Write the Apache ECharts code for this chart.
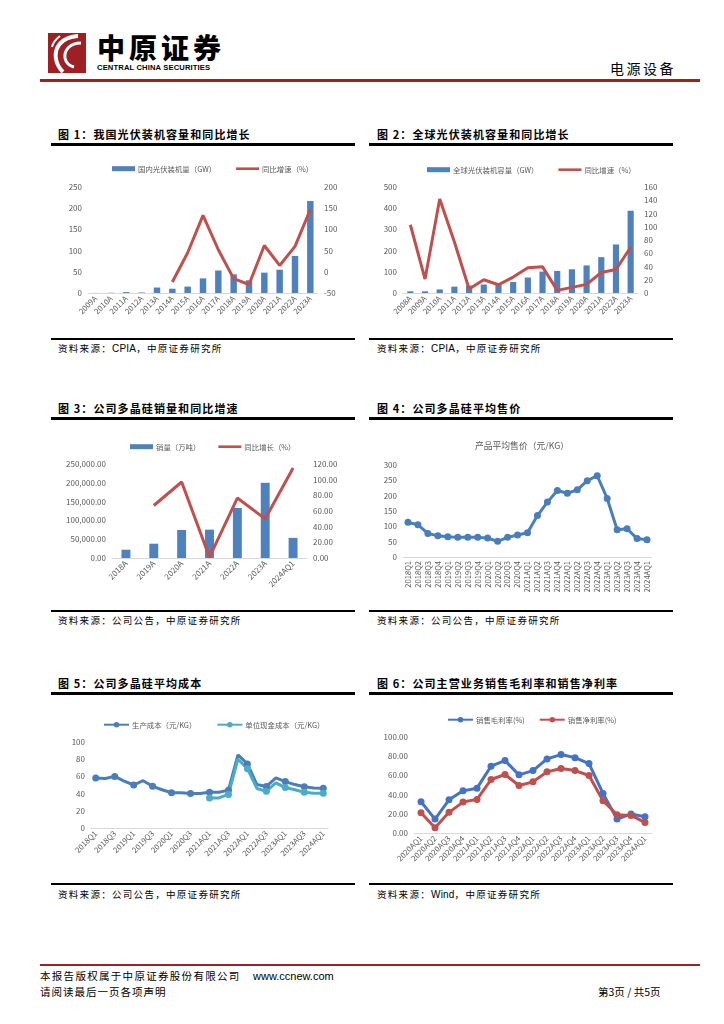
<!DOCTYPE html>
<html><head><meta charset="utf-8">
<script src="https://cdn.jsdelivr.net/npm/echarts@6/dist/echarts.min.js"></script>
<style>
body{margin:0;width:724px;height:1024px;background:#fff;position:relative;overflow:hidden;font-family:'Noto Sans CJK SC',sans-serif;color:#000}
.abs{position:absolute;white-space:nowrap}
.title{position:absolute;font-size:11px;font-weight:bold;letter-spacing:1.1px;line-height:14px;white-space:nowrap}
.tline{position:absolute;height:2.5px;background:#000;width:304px}
.sline{position:absolute;height:1.5px;background:#000;width:304px}
.src{position:absolute;font-size:9.5px;letter-spacing:1.3px;line-height:12px;white-space:nowrap}
.src span{letter-spacing:0.2px;font-family:'Liberation Sans',sans-serif;font-size:10px}
.chart{position:absolute;width:306px;height:190px}
</style></head>
<body>
<!-- header -->
<svg class="abs" style="left:48px;top:33px" width="38" height="40" viewBox="0 0 38 40">
<rect x="0" y="0" width="38" height="40" fill="#9E1F24"/>
<path d="M30 3 C14 4 6 14 8 26 C9 32 12 36 15 39" stroke="#fff" stroke-width="4" fill="none"/>
<path d="M33 10 C22 10 16 17 17 25 C18 30 22 33 26 34" stroke="#fff" stroke-width="3" fill="none"/>
<path d="M12 3 C8 6 5 10 4 14" stroke="#fff" stroke-width="2" fill="none"/>
</svg>
<div class="abs" style="left:97px;top:30px;font-size:28px;font-weight:900;letter-spacing:4px;line-height:34px">中原证券</div>
<div class="abs" style="left:97px;top:63px;font-size:7.6px;font-weight:bold;font-family:'Liberation Sans',sans-serif;letter-spacing:0.15px;line-height:10px">CENTRAL CHINA SECURITIES</div>
<div class="abs" style="left:610px;top:59px;font-size:14px;letter-spacing:2.5px;line-height:18px">电源设备</div>
<div class="abs" style="left:40px;top:79px;width:660px;height:3px;background:#9E1F24"></div>

<!-- titles -->
<div class="title" style="left:58px;top:127px">图 1：我国光伏装机容量和同比增长</div>
<div class="tline" style="left:51px;top:143px"></div>
<div class="title" style="left:377px;top:127px">图 2：全球光伏装机容量和同比增长</div>
<div class="tline" style="left:369px;top:143px"></div>
<div class="sline" style="left:51px;top:338px"></div>
<div class="sline" style="left:369px;top:338px"></div>
<div class="src" style="left:58px;top:342px">资料来源：<span>CPIA</span>，中原证券研究所</div>
<div class="src" style="left:377px;top:342px">资料来源：<span>CPIA</span>，中原证券研究所</div>

<div class="title" style="left:58px;top:401px">图 3：公司多晶硅销量和同比增速</div>
<div class="tline" style="left:51px;top:417px"></div>
<div class="title" style="left:377px;top:401px">图 4：公司多晶硅平均售价</div>
<div class="tline" style="left:369px;top:417px"></div>
<div class="sline" style="left:51px;top:610px"></div>
<div class="sline" style="left:369px;top:610px"></div>
<div class="src" style="left:58px;top:614px">资料来源：公司公告，中原证券研究所</div>
<div class="src" style="left:377px;top:614px">资料来源：公司公告，中原证券研究所</div>

<div class="title" style="left:58px;top:676px">图 5：公司多晶硅平均成本</div>
<div class="tline" style="left:51px;top:692px"></div>
<div class="title" style="left:377px;top:676px">图 6：公司主营业务销售毛利率和销售净利率</div>
<div class="tline" style="left:369px;top:692px"></div>
<div class="sline" style="left:51px;top:883px"></div>
<div class="sline" style="left:369px;top:883px"></div>
<div class="src" style="left:58px;top:888px">资料来源：公司公告，中原证券研究所</div>
<div class="src" style="left:377px;top:888px">资料来源：<span>Wind</span>，中原证券研究所</div>

<!-- charts -->
<div id="c1" class="chart" style="left:51px;top:150px"></div>
<div id="c2" class="chart" style="left:369px;top:150px"></div>
<div id="c3" class="chart" style="left:51px;top:425px"></div>
<div id="c4" class="chart" style="left:369px;top:425px"></div>
<div id="c5" class="chart" style="left:51px;top:700px"></div>
<div id="c6" class="chart" style="left:369px;top:700px"></div>

<!-- footer -->
<div class="abs" style="left:40px;top:964px;width:660px;height:2px;background:#9E1F24"></div>
<div class="abs" style="left:40px;top:969px;font-size:10.5px;letter-spacing:1.3px;line-height:14px">本报告版权属于中原证券股份有限公司</div>
<div class="abs" style="left:253px;top:969px;font-size:11px;font-family:'Liberation Sans',sans-serif;line-height:14px">www.ccnew.com</div>
<div class="abs" style="left:40px;top:985px;font-size:10.5px;letter-spacing:1px;line-height:14px">请阅读最后一页各项声明</div>
<div class="abs" style="left:598px;top:985px;font-size:10.5px;line-height:14px">第3页 / 共5页</div>

<script>
// ---------- data ----------
const c1Cats = ['2009A','2010A','2011A','2012A','2013A','2014A','2015A','2016A','2017A','2018A','2019A','2020A','2021A','2022A','2023A'];
const c1Cap = [0.2,0.6,2.2,1.2,12.9,10.1,15.1,34.5,53,44,30,48,54.9,87.4,217];
const c1Yoy = [null,null,null,null,null,-24,45,133,52,-16,-30,62,15,60,147];

const c2Cats = ['2008A','2009A','2010A','2011A','2012A','2013A','2014A','2015A','2016A','2017A','2018A','2019A','2020A','2021A','2022A','2023A'];
const c2Cap = [8,8,17,30,35,40,45,52,73,101,104,112,130,169,229,388];
const c2Yoy = [103,21,142,77,6,20,12.5,24,38,39.5,4,8.5,13,31,35.5,69];

const c3Cats = ['2018A','2019A','2020A','2021A','2022A','2023A','2024AQ1'];
const c3Sales = [22000,38000,74500,75400,133000,200000,53500];
const c3Yoy = [null,67,97,1,76.5,50,115];

const qCats = ['2018Q1','2018Q2','2018Q3','2018Q4','2019Q1','2019Q2','2019Q3','2019Q4','2020Q1','2020Q2','2020Q3','2020Q4','2021AQ1','2021AQ2','2021AQ3','2021AQ4','2022AQ1','2022AQ2','2022AQ3','2022AQ4','2023AQ1','2023AQ2','2023AQ3','2023AQ4','2024AQ1'];
const c4Price = [113,105,77,69,66,64,64,64,62,51,64,72,79,135,179,217,208,219,249,265,191,89,92,60,56];

const c5Prod = [58,57.5,60,54.5,50,55,48.5,44.5,41,41,40.2,40.2,41.5,41.5,44,85,74.5,50.5,48.3,58.3,54,50.5,48,46.5,46.3];
const c5Cash = [null,null,null,null,null,null,null,null,null,null,null,null,35,35,39,80,69,46,42.8,52.5,47,44.5,41.5,40.5,40.5];

const c6Cats = ['2020AQ1','2020AQ2','2020AQ3','2020AQ4','2021AQ1','2021AQ2','2021AQ3','2021AQ4','2022AQ1','2022AQ2','2022AQ3','2022AQ4','2023AQ1','2023AQ2','2023AQ3','2023AQ4','2024AQ1'];
const c6Gross = [32.5,14.5,34.6,43.9,46.7,69.6,75.4,60.6,65,77.2,81.7,78.5,72.3,41.2,14.5,19.7,17];
const c6Net = [21.1,5.5,21.5,32.2,35,55.7,60.9,49.5,53.3,63.7,67.1,65,59.9,33.6,19,18.3,11];

// ---------- style helpers ----------
const FONT = "'Noto Sans CJK SC', sans-serif";
const GRAY = '#595959';
const BLUE = '#4F81BD';
const RED = '#C0504D';
const BAR_ICON = 'path://M0,0 L23,0 L23,5 L0,5 Z';
const LINE_ICON = 'path://M0,0 L23,0 L23,2.6 L0,2.6 Z';
const txt = (s) => ({color: GRAY, fontSize: s, fontFamily: FONT});

function yAxis(min, max, interval, fmt) {
  return {
    type: 'value', min, max, interval,
    axisLine: {show: false}, axisTick: {show: false}, splitLine: {show: false},
    axisLabel: Object.assign(txt(8), {margin: 6, formatter: fmt})
  };
}
function xAxis(cats, rotate, interval, size) {
  return {
    type: 'category', data: cats, boundaryGap: true,
    axisLine: {show: true, lineStyle: {color: '#D9D9D9', width: 1}},
    axisTick: {show: false},
    axisLabel: Object.assign(txt(size || 7.8), {rotate, interval, margin: 4})
  };
}
function grid(l, t, w, h) {
  return {left: l, top: t, width: w, height: h, containLabel: false, outerBoundsMode: 'none'};
}
function legend(left, top, gap, data) {
  return {left, top, itemGap: gap, itemWidth: 23, itemHeight: 6, symbolKeepAspect: true,
    textStyle: Object.assign(txt(7.4), {padding: [0, 0, 0, -2]}), data, selectedMode: false};
}

// ---------- chart 1 ----------
echarts.init(document.getElementById('c1')).setOption({
  animation: false,
  grid: grid(37, 37, 230, 106),
  legend: legend(56, 10, 20, [{name: '国内光伏装机量（GW）', icon: BAR_ICON}, {name: '同比增速（%）', icon: LINE_ICON}]),
  xAxis: xAxis(c1Cats, 45, 0),
  yAxis: [yAxis(0, 250, 50), yAxis(-50, 200, 50)],
  series: [
    {name: '国内光伏装机量（GW）', type: 'bar', data: c1Cap, barWidth: '42%', itemStyle: {color: BLUE}},
    {name: '同比增速（%）', type: 'line', yAxisIndex: 1, data: c1Yoy, symbol: 'none', lineStyle: {color: RED, width: 3}, itemStyle: {color: RED}}
  ]
});

// ---------- chart 2 ----------
echarts.init(document.getElementById('c2')).setOption({
  animation: false,
  grid: grid(34, 37, 235, 106),
  legend: legend(53, 11, 20, [{name: '全球光伏装机容量（GW）', icon: BAR_ICON}, {name: '同比增速（%）', icon: LINE_ICON}]),
  xAxis: xAxis(c2Cats, 45, 0),
  yAxis: [yAxis(0, 500, 100), yAxis(0, 160, 20)],
  series: [
    {name: '全球光伏装机容量（GW）', type: 'bar', data: c2Cap, barWidth: '42%', itemStyle: {color: BLUE}},
    {name: '同比增速（%）', type: 'line', yAxisIndex: 1, data: c2Yoy, symbol: 'none', lineStyle: {color: RED, width: 3}, itemStyle: {color: RED}}
  ]
});

// ---------- chart 3 ----------
echarts.init(document.getElementById('c3')).setOption({
  animation: false,
  grid: grid(61, 39, 195, 94),
  legend: legend(74, 13, 18, [{name: '销量（万吨）', icon: BAR_ICON}, {name: '同比增长（%）', icon: LINE_ICON}]),
  xAxis: xAxis(c3Cats, 45, 0, 8),
  yAxis: [
    yAxis(0, 250000, 50000, v => v.toLocaleString('en-US', {minimumFractionDigits: 2, maximumFractionDigits: 2})),
    yAxis(0, 120, 20, v => v.toFixed(2))
  ],
  series: [
    {name: '销量（万吨）', type: 'bar', data: c3Sales, barWidth: '32%', itemStyle: {color: BLUE}},
    {name: '同比增长（%）', type: 'line', yAxisIndex: 1, data: c3Yoy, symbol: 'none', lineStyle: {color: RED, width: 3}, itemStyle: {color: RED}}
  ]
});

// ---------- chart 4 ----------
echarts.init(document.getElementById('c4')).setOption({
  animation: false,
  title: {text: '产品平均售价（元/KG）', left: 'center', top: 11, textStyle: Object.assign(txt(8.8), {fontWeight: 'normal'})},
  grid: grid(34, 40, 249, 92),
  xAxis: xAxis(qCats, 90, 0, 7.6),
  yAxis: yAxis(0, 300, 50),
  series: [
    {name: '产品平均售价（元/KG）', type: 'line', data: c4Price, symbol: 'circle', symbolSize: 7,
     lineStyle: {color: '#4A7EBB', width: 3}, itemStyle: {color: '#4A7EBB'}}
  ]
});

// ---------- chart 5 ----------
echarts.init(document.getElementById('c5')).setOption({
  animation: false,
  grid: grid(40, 42, 237, 86),
  legend: Object.assign(legend(47, 16, 20, ['生产成本（元/KG）', '单位现金成本（元/KG）']), {itemWidth: 25, itemHeight: 7}),
  xAxis: xAxis(qCats, 45, 1),
  yAxis: yAxis(0, 100, 20),
  series: [
    {name: '生产成本（元/KG）', type: 'line', data: c5Prod, symbol: 'circle', symbolSize: 7,
     lineStyle: {color: '#4A7EBB', width: 3}, itemStyle: {color: '#4A7EBB'}},
    {name: '单位现金成本（元/KG）', type: 'line', data: c5Cash, symbol: 'circle', symbolSize: 7,
     lineStyle: {color: '#4BACC6', width: 3}, itemStyle: {color: '#4BACC6'}}
  ]
});

// ---------- chart 6 ----------
echarts.init(document.getElementById('c6')).setOption({
  animation: false,
  grid: grid(45, 37, 238, 96),
  legend: Object.assign(legend(73, 11, 14, ['销售毛利率(%)', '销售净利率(%)']), {itemWidth: 25, itemHeight: 7}),
  xAxis: xAxis(c6Cats, 45, 0),
  yAxis: yAxis(0, 100, 20, v => v.toFixed(2)),
  series: [
    {name: '销售毛利率(%)', type: 'line', data: c6Gross, symbol: 'circle', symbolSize: 7,
     lineStyle: {color: '#4472C4', width: 3}, itemStyle: {color: '#4472C4'}},
    {name: '销售净利率(%)', type: 'line', data: c6Net, symbol: 'circle', symbolSize: 7,
     lineStyle: {color: RED, width: 3}, itemStyle: {color: RED}}
  ]
});
</script>
</body></html>
